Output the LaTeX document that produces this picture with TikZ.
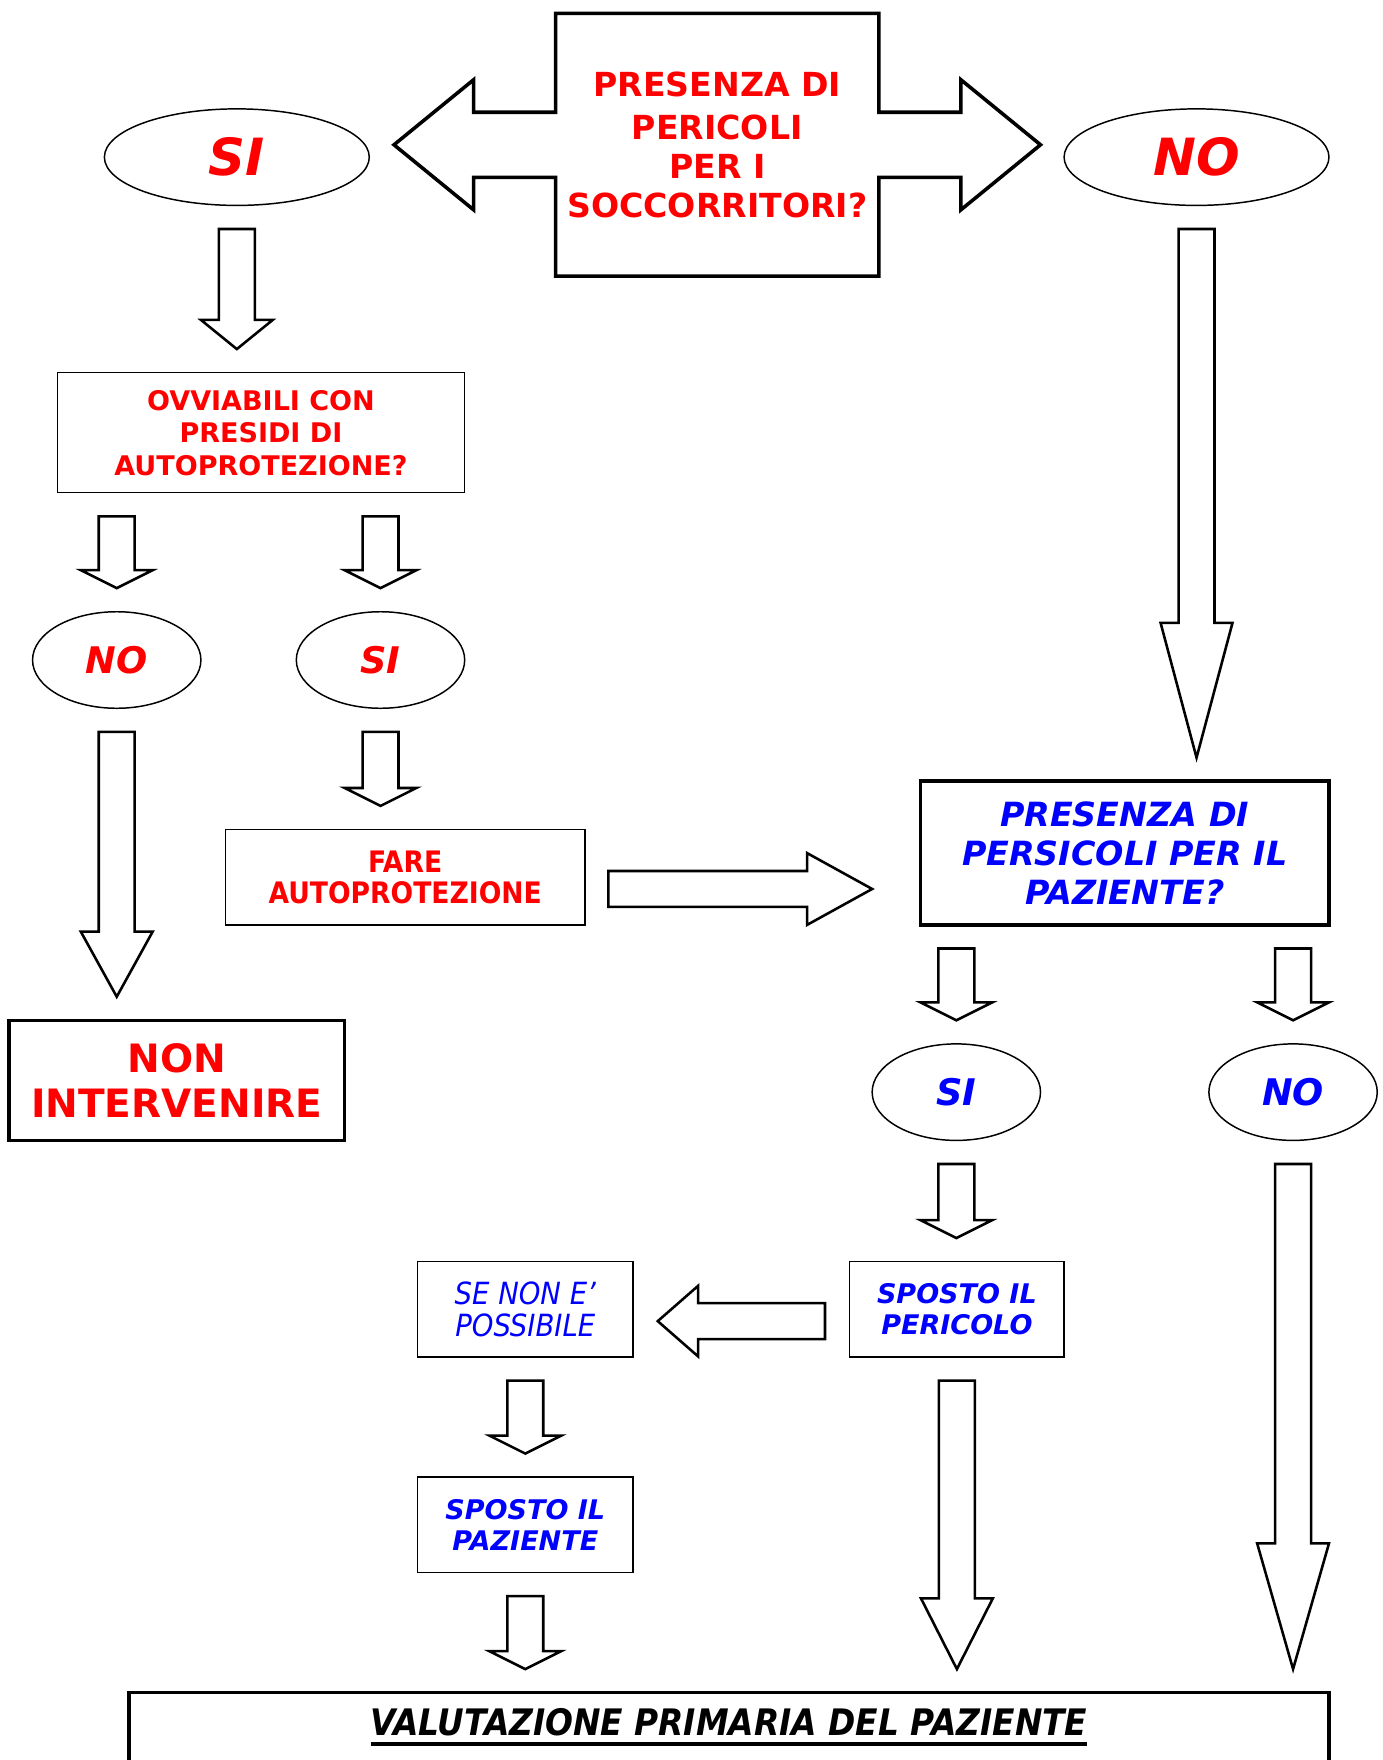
\documentclass[tikz,border=0pt]{standalone}
\usepackage{fontspec}
\setmainfont{DejaVu Sans}
\newfontfamily\condfont{DejaVu Sans Condensed}
\usepackage{tikz}
\usetikzlibrary{calc,shapes.geometric}

\newcommand{\px}{0.02cm}
% block arrow pointing down, x taken from the first point
\newcommand{\downarr}[4]{%
  \draw[blockarrow] let \p1=(#1), \p2=(#2) in
    ($(\x1,\y1)+(-16,21)$) -- ($(\x1,\y1)+(16,21)$)
    -- ($(\x1,\y2)+(16,-21-#4)$) -- ($(\x1,\y2)+(#3,-21-#4)$)
    -- ($(\x1,\y2)+(0,-21)$)
    -- ($(\x1,\y2)+(-#3,-21-#4)$) -- ($(\x1,\y2)+(-16,-21-#4)$) -- cycle;}
\newcommand{\thickul}[1]{\setbox0\hbox{#1}\rlap{\raisebox{-5.5pt}{\rule{\wd0}{2pt}}}\box0}

\begin{document}
\begin{tikzpicture}[x=\px, y=-\px,
  box/.style={draw, line width=0.75pt, inner sep=0pt, outer sep=0pt, align=center},
  thickbox/.style={box, line width=1.8pt},
  oval/.style={draw, ellipse, line width=0.75pt, inner sep=0pt, outer sep=0pt},
  blockarrow/.style={draw, line width=1.3pt, line join=miter, fill=white}]

    \useasboundingbox (0,0) rectangle (1232,1568);

    % first question
    \node[align=center, inner sep=0pt, outer sep=0pt, minimum width=288*\px, minimum height=234*\px,
      text=red, font=\fontsize{16.8}{19.9}\selectfont\bfseries] (haz) at (639,129)
      {\raisebox{2pt}{PRESENZA DI}\\PERICOLI\\PER I\\SOCCORRITORI?};
    \draw[line width=1.8pt, line join=miter] (haz.north west) -- (haz.north east)
      -- ($(haz.east)+(0,-29)$) -- ($(haz.east)+(73,-29)$) -- ($(haz.east)+(73,-58)$)
      -- ($(haz.east)+(144,0)$)
      -- ($(haz.east)+(73,58)$) -- ($(haz.east)+(73,29)$) -- ($(haz.east)+(0,29)$)
      -- (haz.south east) -- (haz.south west)
      -- ($(haz.west)+(0,29)$) -- ($(haz.west)+(-73,29)$) -- ($(haz.west)+(-73,58)$)
      -- ($(haz.west)+(-144,0)$)
      -- ($(haz.west)+(-73,-58)$) -- ($(haz.west)+(-73,-29)$) -- ($(haz.west)+(0,-29)$) -- cycle;

    \node[oval, minimum width=236*\px, minimum height=86*\px, text=red,
      font=\fontsize{26}{30}\selectfont\bfseries\itshape] (siA) at (211,140) {SI};
    \node[oval, minimum width=236*\px, minimum height=86*\px, text=red,
      font=\fontsize{26}{30}\selectfont\bfseries\itshape] (noA) at (1066,140) {NO};

    % left branch
    \node[box, minimum width=363*\px, minimum height=107*\px, text=red,
      font=\fontsize{13.7}{16.5}\selectfont\bfseries] (ovv) at (232.5,385.5)
      {OVVIABILI CON\\PRESIDI DI\\AUTOPROTEZIONE?};
    \node[oval, minimum width=150*\px, minimum height=86*\px, text=red,
      font=\fontsize{18.6}{22}\selectfont\bfseries\itshape] (noB) at (104,588) {NO};
    \node[oval, minimum width=150*\px, minimum height=86*\px, text=red,
      font=\fontsize{18.6}{22}\selectfont\bfseries\itshape] (siB) at (339,588) {SI};
    \node[box, minimum width=320*\px, minimum height=85*\px, text=red,
      font=\condfont\fontsize{15}{15.9}\selectfont\bfseries] (fare) at (361,781.5)
      {FARE\\AUTOPROTEZIONE};
    \node[thickbox, minimum width=299*\px, minimum height=107*\px, text=red,
      font=\fontsize{19.8}{22.8}\selectfont\bfseries] (nonint) at (157.5,962.5)
      {NON\\INTERVENIRE};

    % right branch
    \node[thickbox, minimum width=364*\px, minimum height=128*\px, text=blue,
      font=\fontsize{16.9}{19.6}\selectfont\bfseries\itshape] (paz) at (1002,760)
      {PRESENZA DI\\PERSICOLI PER IL\\PAZIENTE?};
    \node[oval, minimum width=150*\px, minimum height=86*\px, text=blue,
      font=\fontsize{18.6}{22}\selectfont\bfseries\itshape] (siC) at (852,973) {SI};
    \node[oval, minimum width=150*\px, minimum height=86*\px, text=blue,
      font=\fontsize{18.6}{22}\selectfont\bfseries\itshape] (noC) at (1152,973) {NO};
    \node[box, minimum width=191*\px, minimum height=85*\px, text=blue,
      font=\fontsize{13.7}{16}\selectfont\bfseries\itshape] (sppe) at (852.5,1166.5)
      {SPOSTO IL\\PERICOLO};
    \node[box, minimum width=192*\px, minimum height=85*\px, text=blue,
      font=\condfont\fontsize{15.5}{16.5}\selectfont\itshape] (senon) at (468,1166.5)
      {SE NON E’\\POSSIBILE};
    \node[box, minimum width=192*\px, minimum height=85*\px, text=blue,
      font=\fontsize{13.7}{16}\selectfont\bfseries\itshape] (sppa) at (468,1358.5)
      {SPOSTO IL\\PAZIENTE};

    \node[thickbox, minimum width=1069*\px, minimum height=120*\px, anchor=north] (val) at (649.5,1508) {};
    \node[inner sep=0pt, font=\condfont\fontsize{18.5}{22}\selectfont\bfseries\itshape] (valtxt)
      at ($(val.north)+(0,31)$) {\thickul{VALUTAZIONE PRIMARIA DEL PAZIENTE}};

    % arrows
    \downarr{siA.south}{ovv.north}{32}{26}
    \downarr{ovv.south -| noB}{noB.north}{32}{16}
    \downarr{ovv.south -| siB}{siB.north}{32}{16}
    \downarr{noB.south}{nonint.north}{32}{58}
    \downarr{siB.south}{fare.north}{32}{16}
    \downarr{noA.south}{paz.north}{32}{120}
    \downarr{paz.south -| siC}{siC.north}{32}{16}
    \downarr{paz.south -| noC}{noC.north}{32}{16}
    \downarr{siC.south}{sppe.north}{32}{16}
    \downarr{sppe.south}{val.north}{32}{63}
    \downarr{noC.south}{val.north}{32}{112}
    \downarr{senon.south}{sppa.north}{32}{16}
    \downarr{sppa.south}{val.north}{32}{16}

    \draw[blockarrow] let \p1=(fare.east), \p2=(paz.west) in
      ($(\x1,\y1)+(21,-5.5)$) -- ($(\x2,\y1)+(-101,-5.5)$) -- ($(\x2,\y1)+(-101,-21.5)$)
      -- ($(\x2,\y1)+(-43,10.5)$)
      -- ($(\x2,\y1)+(-101,42.5)$) -- ($(\x2,\y1)+(-101,26.5)$) -- ($(\x1,\y1)+(21,26.5)$) -- cycle;
    \draw[blockarrow] let \p1=(sppe.west), \p2=(senon.east) in
      ($(\x1,\y1)+(-22,-5.5)$) -- ($(\x2,\y1)+(58,-5.5)$) -- ($(\x2,\y1)+(58,-21)$)
      -- ($(\x2,\y1)+(22,10.5)$)
      -- ($(\x2,\y1)+(58,42)$) -- ($(\x2,\y1)+(58,26.5)$) -- ($(\x1,\y1)+(-22,26.5)$) -- cycle;

\end{tikzpicture}
\end{document}
